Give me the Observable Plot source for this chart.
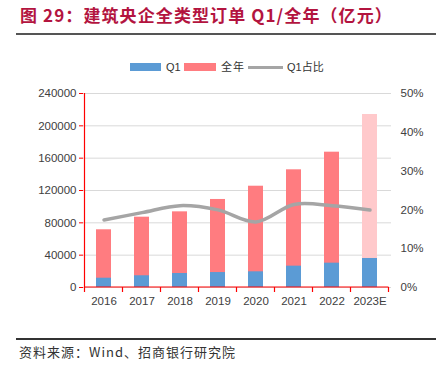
<!DOCTYPE html>
<html>
<head>
<meta charset="utf-8">
<script src="https://cdn.jsdelivr.net/npm/d3@7"></script>
<script src="https://cdn.jsdelivr.net/npm/@observablehq/plot@0.6"></script>
<style>
  html, body { margin: 0; padding: 0; background: #fff; }
  #wrap { position: relative; width: 438px; height: 367px; overflow: hidden; background: #fff;
          font-family: "Liberation Sans", Arial, "Noto Sans CJK SC", sans-serif; }
  .abs { position: absolute; white-space: nowrap; }
  #title { left: 20px; top: 3px; font-size: 17px; font-weight: bold; color: #B3143F;
           font-family: "Noto Sans CJK SC", sans-serif; line-height: 24px; letter-spacing: 1.1px; }
  #rule1 { left: 16px; top: 33px; width: 420px; height: 2px; background: #555; }
  .lg { font-size: 11px; color: #333; line-height: 14px; top: 60px; font-family: "Liberation Sans", "Noto Sans CJK SC", sans-serif; }
  #chart { left: 0; top: 75px; }
  #rule2 { left: 16px; top: 338px; width: 420px; height: 1.5px; background: #333; }
  #source { left: 19px; top: 343px; font-size: 13px; color: #333; line-height: 18px; letter-spacing: 1px;
            font-family: "Noto Sans CJK SC", sans-serif; }
</style>
</head>
<body>
<div id="wrap">
  <div id="title" class="abs">图 29：建筑央企全类型订单 Q1/全年（亿元）</div>
  <div id="rule1" class="abs"></div>
  <div class="abs" style="left:130px;top:63px;width:31px;height:8px;background:#5B9BD5"></div>
  <div class="abs lg" style="left:166px">Q1</div>
  <div class="abs" style="left:184px;top:63px;width:32px;height:8px;background:#FF7C80"></div>
  <div class="abs lg" style="left:221px;letter-spacing:1px">全年</div>
  <div class="abs" style="left:248px;top:65.5px;width:35px;height:3px;background:#A5A5A5"></div>
  <div class="abs lg" style="left:287px">Q1占比</div>
  <div id="chart" class="abs"></div>
  <div id="rule2" class="abs"></div>
  <div id="source" class="abs">资料来源：Wind、招商银行研究院</div>
</div>
<script>
const years = ["2016", "2017", "2018", "2019", "2020", "2021", "2022", "2023E"];
const fullYear = [71400, 87000, 93600, 108900, 125300, 145600, 167400, 214000];
const q1 = [11500, 14500, 17300, 18500, 19400, 26400, 30100, 35900];
const q1Share = [17.4, 19.3, 21.1, 20.0, 16.9, 21.4, 21.1, 20.0];
const leftTicks = [0, 40000, 80000, 120000, 160000, 200000, 240000];
const rightTicks = [0, 10, 20, 30, 40, 50];

const yMax = 240000, pctMax = 50;
const rows = years.map((y, i) => ({year: y, full: fullYear[i], q1: q1[i], share: q1Share[i], est: y.endsWith("E")}));

const axisRed = "#FF0000";

// custom mark: red left axis line and category boundary ticks on the x axis
function axisLines(index, scales, values, dims) {
  const x = scales.x, y = scales.y;
  const step = x.step ? x.step() : (dims.width - dims.marginLeft - dims.marginRight) / years.length;
  const bw = x.bandwidth ? x.bandwidth() : 0;
  const y0 = y(0);
  const g = d3.create("svg:g").attr("stroke", axisRed).attr("stroke-width", 1.2);
  const bounds = years.map(c => x(c) + bw / 2 - step / 2);
  bounds.push(x(years[years.length - 1]) + bw / 2 + step / 2);
  g.selectAll("line.t").data(bounds).join("line")
    .attr("x1", d => d).attr("x2", d => d).attr("y1", y0).attr("y2", y0 + 5);
  g.append("line").attr("x1", bounds[0]).attr("x2", bounds[0]).attr("y1", y(yMax)).attr("y2", y0);
  g.append("line").attr("x1", bounds[0]).attr("x2", bounds[bounds.length - 1]).attr("y1", y0).attr("y2", y0);
  return g.node();
}

const chart = Plot.plot({
  width: 438,
  height: 240,
  marginTop: 18,
  marginBottom: 28,
  marginLeft: 83,
  marginRight: 47,
  style: {fontFamily: "'Liberation Sans', Arial, sans-serif", fontSize: "11.5px", color: "#404040", background: "transparent"},
  x: {domain: years, paddingInner: 0.6, paddingOuter: 0.3, axis: null},
  y: {domain: [0, yMax], axis: null},
  marks: [
    Plot.gridY(leftTicks, {stroke: "#D9D9D9", strokeOpacity: 1, strokeWidth: 1}),
    Plot.barY(rows, {x: "year", y: "full", fill: d => d.est ? "#FFC9CB" : "#FF7C80"}),
    Plot.barY(rows, {x: "year", y: "q1", fill: "#5B9BD5"}),
    Plot.line(rows, {x: "year", y: d => d.share / pctMax * yMax, stroke: "#A5A5A5", strokeWidth: 3.5, curve: "catmull-rom"}),
    axisLines,
    Plot.axisY(leftTicks, {anchor: "left", tickSize: 4, tickPadding: 3, stroke: axisRed, color: "#404040", tickFormat: d => String(d), label: null, fontSize: 11.5}),
    Plot.axisX(years, {anchor: "bottom", tickSize: 0, tickPadding: 9, color: "#404040", label: null, fontSize: 11.5}),
    Plot.text(rightTicks, {y: d => d / pctMax * yMax, text: d => d + "%", frameAnchor: "right", dx: 9, textAnchor: "start", fill: "#404040", fontSize: 11.5})
  ]
});
document.getElementById("chart").appendChild(chart);
</script>
</body>
</html>
